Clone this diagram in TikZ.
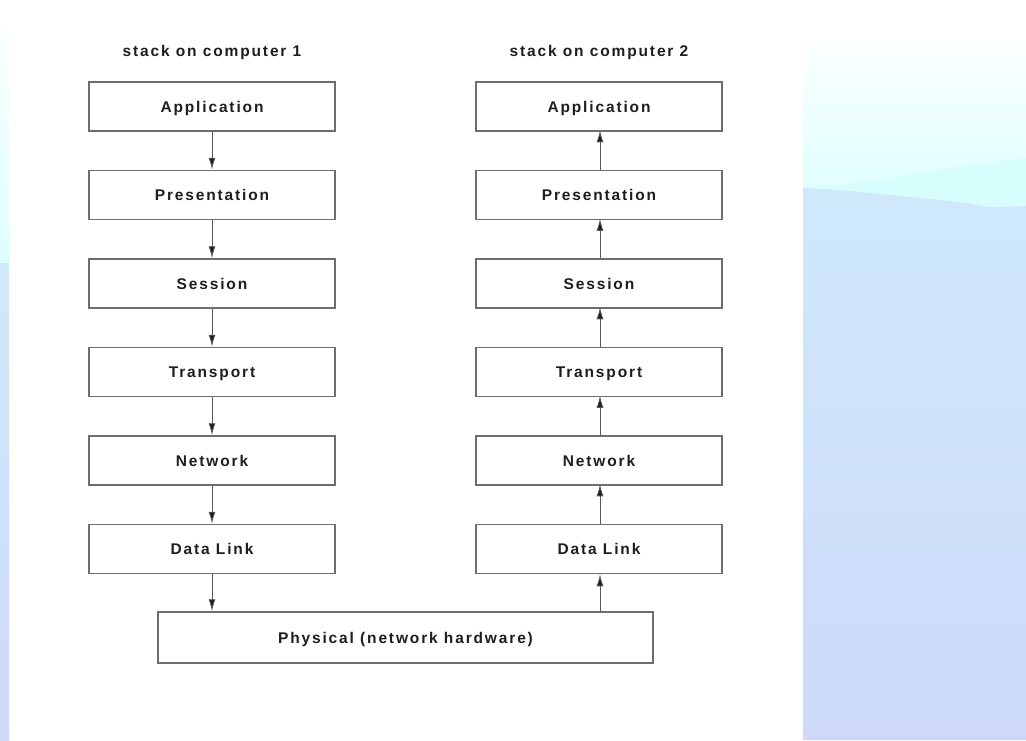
\documentclass[tikz,border=0pt]{standalone}
\usepackage{fontspec}
\setmainfont{Liberation Sans}[LetterSpace=12]
\usetikzlibrary{arrows.meta}

\definecolor{sky1}{HTML}{FBFFFF}
\definecolor{sky2}{HTML}{DCFFFE}
\definecolor{hill}{HTML}{D8FDFD}
\definecolor{land1}{HTML}{CFE9FB}
\definecolor{land2}{HTML}{CED9FA}
\definecolor{frame}{HTML}{6E6E6E}
\definecolor{ink}{HTML}{1E1E1E}

\tikzset{
  layer/.style={draw=frame, line width=1.5pt, fill=white,
    minimum width=246pt, minimum height=49pt, inner sep=0pt,
    text height=11pt, text depth=0pt,
    text=ink, font=\fontsize{15.5}{17}\selectfont\bfseries},
  caption/.style={text=ink, inner sep=0pt,
    font=\fontsize{15.5}{17}\selectfont\bfseries},
  flow/.style={draw=black!65, line width=0.9pt,
    -{Latex[length=12pt,width=7pt,fill=black!90]}},
}

\begin{document}
\begin{tikzpicture}[x=1pt,y=-1pt]
\useasboundingbox (0,0) rectangle (1026,740);

% slide backdrop: strip on the left edge
\shade[top color=sky1, bottom color=sky2] (0,25) rectangle (9,263);
\shade[top color=land1, bottom color=land2] (0,263) rectangle (9,740);

% slide backdrop: landscape panel on the right
\shade[top color=sky1, bottom color=sky2] (803,42) rectangle (1026,210);
\fill[hill] (803,188) -- (880,180) -- (950,168) -- (1026,158)
  -- (1026,208) -- (803,192) -- cycle;
\shade[top color=land1, bottom color=land2]
  (803,188) -- (850,191) -- (900,196) -- (950,201) -- (990,207) -- (1026,206)
  -- (1026,740) -- (803,740) -- cycle;

% column headings
\node[caption] (h1) at (212,52) {stack on computer 1};
\node[caption] (h2) at (599,52) {stack on computer 2};

% protocol stack of computer 1
\node[layer] (a1) at (212,106.5) {Application};
\node[layer] (p1) at (212,195)   {Presentation};
\node[layer] (s1) at (212,283.5) {Session};
\node[layer] (t1) at (212,372)   {Transport};
\node[layer] (n1) at (212,460.5) {Network};
\node[layer] (d1) at (212,549)   {Data Link};

% protocol stack of computer 2
\node[layer] (a2) at (599,106.5) {Application};
\node[layer] (p2) at (599,195)   {Presentation};
\node[layer] (s2) at (599,283.5) {Session};
\node[layer] (t2) at (599,372)   {Transport};
\node[layer] (n2) at (599,460.5) {Network};
\node[layer] (d2) at (599,549)   {Data Link};

% shared physical layer
\node[layer, minimum width=495pt, minimum height=51pt] (ph) at (405.5,637.5)
  {Physical (network hardware)};

% data travels down stack 1 ...
\draw[flow] (a1) -- (p1);
\draw[flow] (p1) -- (s1);
\draw[flow] (s1) -- (t1);
\draw[flow] (t1) -- (n1);
\draw[flow] (n1) -- (d1);
\draw[flow] (d1.south) -- (d1.south |- ph.north);

% ... and up stack 2
\draw[flow] (ph.north -| d2.south) ++(1,0) coordinate (up) -- (up |- d2.south);
\draw[flow] (d2.north) ++(1,0) -- ++(0,-39.5);
\draw[flow] (n2.north) ++(1,0) -- ++(0,-39.5);
\draw[flow] (t2.north) ++(1,0) -- ++(0,-39.5);
\draw[flow] (s2.north) ++(1,0) -- ++(0,-39.5);
\draw[flow] (p2.north) ++(1,0) -- ++(0,-39.5);
\end{tikzpicture}
\end{document}
